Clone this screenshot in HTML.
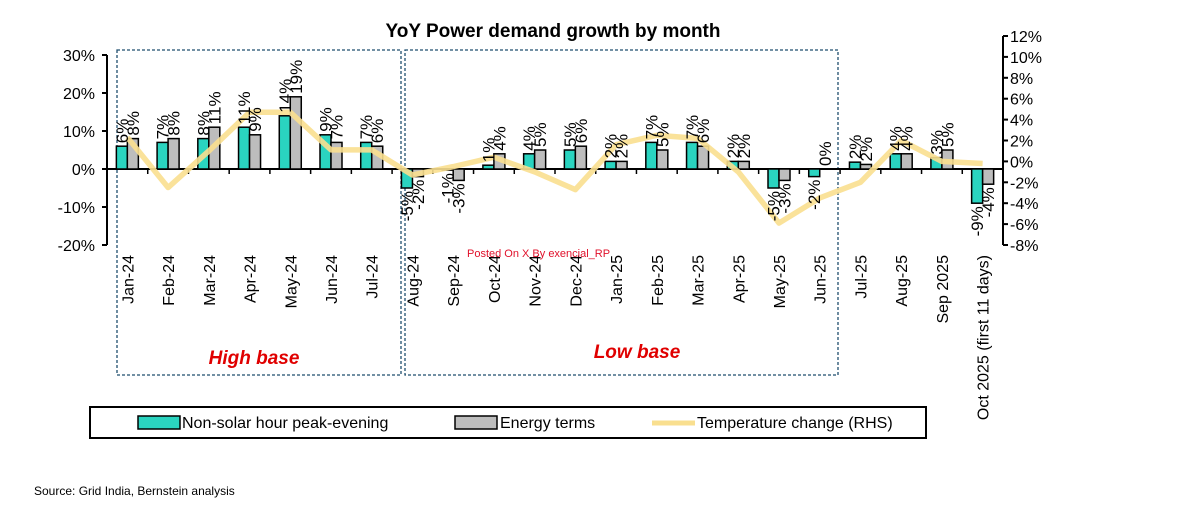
<!DOCTYPE html>
<html><head><meta charset="utf-8"><style>
body{margin:0;background:#fff;width:1200px;height:511px;overflow:hidden;font-family:"Liberation Sans",Arial,sans-serif}
</style></head><body>
<svg width="1200" height="511" viewBox="0 0 1200 511" font-family="Liberation Sans, Arial, sans-serif">
<text x="553" y="37" text-anchor="middle" font-size="19" font-weight="bold">YoY Power demand growth by month</text>
<g id="boxes">
<rect x="117" y="50" width="284" height="325" fill="none" stroke="#1f4e6e" stroke-width="1.3" stroke-dasharray="3,2"/>
<rect x="405" y="50" width="433" height="325" fill="none" stroke="#1f4e6e" stroke-width="1.3" stroke-dasharray="3,2"/>
<text x="254" y="364" text-anchor="middle" font-size="19" font-weight="bold" font-style="italic" fill="#e00000">High base</text>
<text x="637" y="358" text-anchor="middle" font-size="19" font-weight="bold" font-style="italic" fill="#e00000">Low base</text>
</g>
<g id="plot"></g>
<text x="467" y="257" font-size="11" fill="#e0102a">Posted On X By exencial_RP</text>
<g>
<rect x="90" y="407" width="836" height="31" fill="#fff" stroke="#000" stroke-width="2"/>
<rect x="138" y="416" width="42" height="13" fill="#2ad4c0" stroke="#000" stroke-width="1.5"/>
<text x="182" y="428" font-size="16">Non-solar hour peak-evening</text>
<rect x="455" y="416" width="42" height="13" fill="#bdbdbd" stroke="#000" stroke-width="1.5"/>
<text x="500" y="428" font-size="16">Energy terms</text>
<line x1="652" y1="423" x2="695" y2="423" stroke="#f9df8f" stroke-width="5"/>
<text x="697" y="428" font-size="16">Temperature change (RHS)</text>
</g>
<text x="34" y="495" font-size="12">Source: Grid India, Bernstein analysis</text>
</svg>
<script>
const categories=["Jan-24","Feb-24","Mar-24","Apr-24","May-24","Jun-24","Jul-24","Aug-24","Sep-24","Oct-24","Nov-24","Dec-24","Jan-25","Feb-25","Mar-25","Apr-25","May-25","Jun-25","Jul-25","Aug-25","Sep 2025","Oct 2025 (first 11 days)"];
const nonSolar=[6,7,8,11,14,9,7,-5,-0.3,1,4,5,2,7,7,2,-5,-2,1.8,4,3,-9];
const energy=[8,8,11,9,19,7,6,-2,-3,4,5,6,2,5,6,2,-3,0,1.2,4,5,-4];
const nonSolarLabels=["6%","7%","8%","11%","14%","9%","7%","-5%","-1%","1%","4%","5%","2%","7%","7%","2%","-5%","-2%","2%","4%","3%","-9%"];
const energyLabels=["8%","8%","11%","9%","19%","7%","6%","-2%","-3%","4%","5%","6%","2%","5%","6%","2%","-3%","0%","2%","4%","5%","-4%"];
const temperature=[2.3,-2.5,1,4.7,4.7,1.1,1.1,-1.3,-0.5,0.4,-1,-2.7,1.6,2.5,2.2,-1,-5.9,-3.5,-2,2,0,-0.2];
const leftTicks=[30,20,10,0,-10,-20];
const rightTicks=[12,10,8,6,4,2,0,-2,-4,-6,-8];

const NS="http://www.w3.org/2000/svg";
const X0=107,X1=1003,n=categories.length,bw=(X1-X0)/n;
const yL=v=>169-v*3.8;
const yR=v=>161.4-v*10.45;
const xc=i=>X0+bw*(i+0.5);
function mk(tag,attrs,parent){const e=document.createElementNS(NS,tag);for(const k in attrs)e.setAttribute(k,attrs[k]);parent.appendChild(e);return e;}
const g=document.getElementById('plot');
let ax=mk('line',{x1:X0,y1:yL(30),x2:X0,y2:yL(-20),stroke:'#000','stroke-width':2},g);


leftTicks.forEach(v=>{
  mk('line',{x1:X0-5,y1:yL(v),x2:X0,y2:yL(v),stroke:'#000','stroke-width':2},g);
  const t=mk('text',{x:X0-12,y:yL(v)+6,'text-anchor':'end','font-size':16},g);
  t.textContent=v+'%';
  
  
});
let ar=mk('line',{x1:X1,y1:yR(12),x2:X1,y2:yR(-8),stroke:'#000','stroke-width':2},g);


rightTicks.forEach(v=>{
  mk('line',{x1:X1,y1:yR(v),x2:X1+5,y2:yR(v),stroke:'#000','stroke-width':2},g);
  const t=mk('text',{x:X1+7,y:yR(v)+6,'font-size':16},g);
  t.textContent=v+'%';
  
  
});
let xa=mk('line',{x1:X0,y1:yL(0),x2:X1,y2:yL(0),stroke:'#000','stroke-width':2},g);


for(let i=1;i<n;i++)mk('line',{x1:X0+bw*i,y1:yL(0),x2:X0+bw*i,y2:yL(0)+5,stroke:'#000','stroke-width':1.5},g);
const barW=11;
function bar(i,v,off,fill,name){
  const y=Math.min(yL(v),yL(0)),h=Math.abs(yL(v)-yL(0));
  const r=mk('rect',{x:xc(i)+off,y:y,width:barW,height:h,fill:fill,stroke:'#000','stroke-width':1.5},g);
  
  
}
function lbl(i,v,text,off){
  const x=xc(i)+off+barW/2+6;
  let t;
  if(v>=0){const y=yL(v)-3;t=mk('text',{x:0,y:0,'font-size':17,transform:`translate(${x},${y}) rotate(-90)`},g);}
  else{const y=yL(v)+3;t=mk('text',{x:0,y:0,'font-size':17,'text-anchor':'end',transform:`translate(${x},${y}) rotate(-90)`},g);}
  t.textContent=text;
  
  
}
categories.forEach((c,i)=>{
  bar(i,nonSolar[i],-barW,'#2ad4c0','bar-nonsolar');
  bar(i,energy[i],0,'#bdbdbd','bar-energy');
  const t=mk('text',{x:0,y:0,'font-size':16,'text-anchor':'end',transform:`translate(${xc(i)+6},${255}) rotate(-90)`},g);
  t.textContent=c;
  
  
});
let pts=temperature.map((v,i)=>xc(i)+','+yR(v)).join(' ');
let pl=mk('polyline',{points:pts,fill:'none',stroke:'#f9df8f','stroke-width':5.5,'stroke-linejoin':'round',opacity:0.9},g);


categories.forEach((c,i)=>{
  lbl(i,nonSolar[i],nonSolarLabels[i],-barW);
  lbl(i,energy[i],energyLabels[i],0);
});
</script>
</body></html>
